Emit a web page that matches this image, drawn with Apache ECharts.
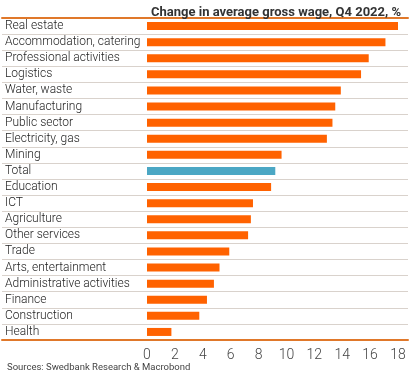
<!DOCTYPE html>
<html>
<head>
<meta charset="utf-8">
<script src="https://cdn.jsdelivr.net/npm/echarts@6/dist/echarts.min.js"></script>
<style>html,body{margin:0;padding:0;background:#fff;}#c{width:410px;height:372px;}</style>
</head>
<body>
<div id="c"></div>
<script>
const categories = ["Real estate","Accommodation, catering","Professional activities","Logistics","Water, waste","Manufacturing","Public sector","Electricity, gas","Mining","Total","Education","ICT","Agriculture","Other services","Trade","Arts, entertainment","Administrative activities","Finance","Construction","Health"];
const values = [18.1,17.1,15.9,15.35,13.9,13.5,13.3,12.9,9.65,9.2,8.9,7.6,7.45,7.25,5.9,5.2,4.8,4.3,3.75,1.75];
const highlightCategory = "Total";
const titleText = "Change in average gross wage, Q4 2022, %";
const sourceText = "Sources: Swedbank Research & Macrobond";

const FONT = 'Roboto';
const chart = echarts.init(document.getElementById('c'), null, {renderer:'canvas'});
chart.setOption({
  animation: false,
  backgroundColor: '#ffffff',
  title: [
    {text: titleText, left: 146, top: 1, textStyle: {fontFamily: FONT, fontSize: 13, fontWeight: 'bold', color: '#333333'}},
    {text: sourceText, left: 2, top: 358, textStyle: {fontFamily: FONT, fontSize: 9.5, fontWeight: 'normal', color: '#444444'}}
  ],
  grid: [
    {left: 147, right: 12, top: 18, bottom: 32},
    {left: 2, right: 2, top: 18, bottom: 32}
  ],
  xAxis: [
    {gridIndex: 0, type: 'value', min: 0, max: 18, interval: 2,
     axisLine: {show: false}, axisTick: {show: false}, splitLine: {show: false},
     axisLabel: {fontFamily: FONT, fontSize: 14, fontWeight: 300, color: '#444444', margin: 8}},
    {gridIndex: 1, type: 'value', min: 0, max: 1, position: 'bottom',
     axisLine: {show: true, lineStyle: {color: '#E0782A', width: 2}}, axisTick: {show: false},
     axisLabel: {show: false}, splitLine: {show: false}},
    {gridIndex: 1, type: 'value', min: 0, max: 1, position: 'top',
     axisLine: {show: true, lineStyle: {color: '#E0782A', width: 2}}, axisTick: {show: false},
     axisLabel: {show: false}, splitLine: {show: false}}
  ],
  yAxis: [
    {gridIndex: 0, type: 'category', data: categories, inverse: true,
     axisLine: {show: false}, axisTick: {show: false}, axisLabel: {show: false}, splitLine: {show: false}},
    {gridIndex: 1, type: 'category', data: categories, inverse: true,
     axisLine: {show: false}, axisTick: {show: false},
     axisLabel: {inside: true, margin: 3, fontFamily: FONT, fontSize: 12, fontWeight: 300, color: '#222222'},
     splitLine: {show: true, lineStyle: {color: '#d9d2cc', width: 1}}}
  ],
  series: [{
    type: 'bar', xAxisIndex: 0, yAxisIndex: 0, barWidth: 8,
    data: values.map((v, i) => ({value: v, itemStyle: {color: categories[i] === highlightCategory ? '#4BA7C4' : '#FF6200'}})),
    silent: true
  }]
});
</script>
</body>
</html>
